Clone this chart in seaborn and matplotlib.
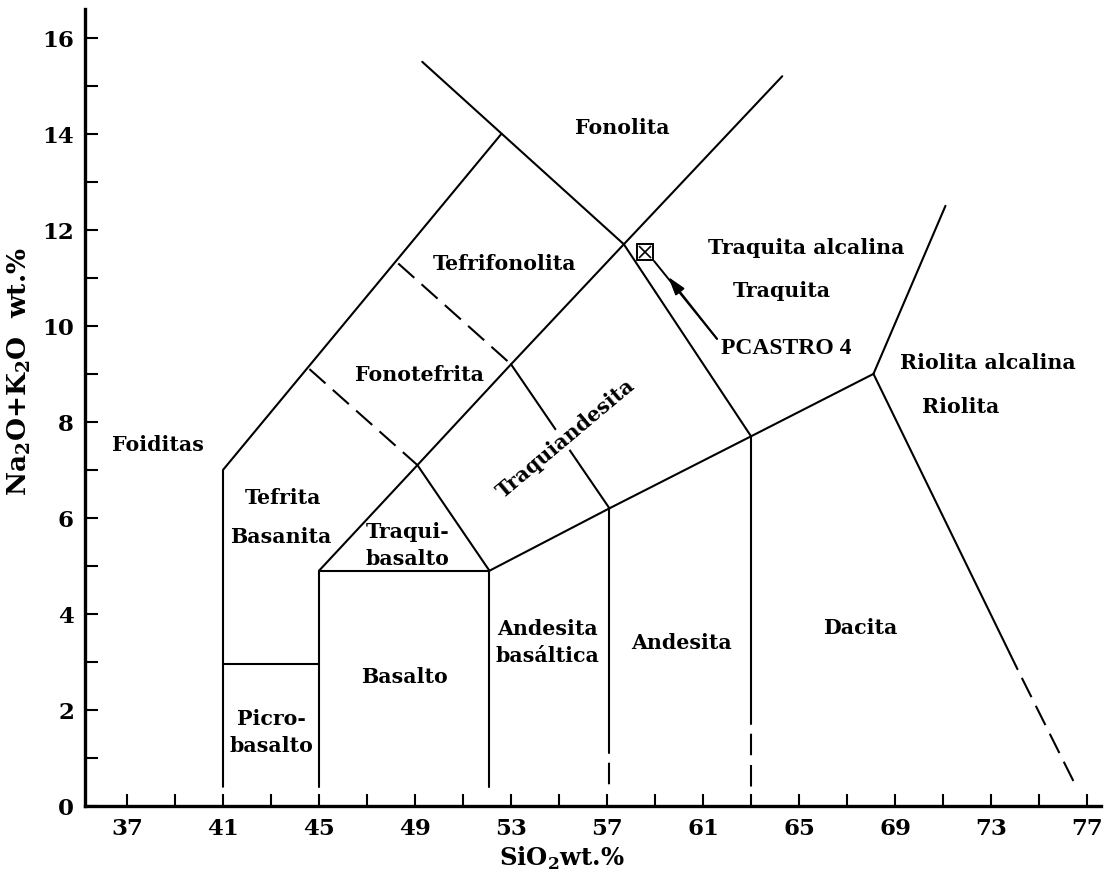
import matplotlib
matplotlib.use("Agg")
import matplotlib.pyplot as plt
import seaborn as sns

# ---------------- data (SiO2 wt.%, Na2O+K2O wt.%) ----------------
# solid boundary polylines
foidite_x = [41.0, 41.0, 52.6]
foidite_y = [0.4, 7.0, 14.0]
phono_top_x = [49.3, 57.7, 63.0]
phono_top_y = [15.5, 11.7, 7.7]
alkaline_x = [45.0, 49.1, 53.0, 57.7, 64.3]
alkaline_y = [4.9, 7.1, 9.2, 11.7, 15.2]
subalk_x = [52.1, 57.1, 63.0, 68.1]
subalk_y = [4.9, 6.2, 7.7, 9.0]
picro_top_x = [41.0, 45.0]
picro_top_y = [2.95, 2.95]
basalt_x = [45.0, 45.0, 52.1, 52.1]
basalt_y = [0.4, 4.9, 4.9, 0.4]
trbas_x = [49.1, 52.1]
trbas_y = [7.1, 4.9]
trand_x = [53.0, 57.1]
trand_y = [9.2, 6.2]
and_x = [57.1, 57.1]
and_y = [6.2, 1.1]
dac_x = [63.0, 63.0]
dac_y = [7.7, 1.7]
rhy_up_x = [68.1, 71.1]
rhy_up_y = [9.0, 12.5]
rhy_low_x = [68.1, 74.1]
rhy_low_y = [9.0, 2.85]
# dashed boundary polylines (start with a dash)
d_tephphon_x = [48.3, 53.0]
d_tephphon_y = [11.3, 9.2]
d_phonteph_x = [44.6, 49.1]
d_phonteph_y = [9.1, 7.1]
# dashed continuations (start with a gap)
d_and_x = [57.1, 57.1]
d_and_y = [1.1, 0.4]
d_dac_x = [63.0, 63.0]
d_dac_y = [1.7, 0.4]
d_rhy_x = [74.1, 76.6]
d_rhy_y = [2.85, 0.35]

# sample
sample_name = "PCASTRO 4"
sample_x = [58.58]
sample_y = [11.53]

# field names and positions
field_names = ["Fonolita", "Tefrifonolita", "Fonotefrita", "Foiditas", "Tefrita",
               "Basanita", "Traqui-\nbasalto", "Basalto", "Picro-\nbasalto",
               "Andesita\nbasáltica", "Andesita", "Dacita", "Traquita alcalina",
               "Traquita", "Riolita alcalina", "Riolita"]
field_x = [57.65, 52.74, 49.17, 38.3, 43.5, 43.42, 48.7, 48.54, 43.0,
           54.5, 60.1, 67.57, 65.28, 64.3, 72.85, 71.74]
field_y = [14.14, 11.32, 9.0, 7.55, 6.43, 5.63, 5.45, 2.71, 1.55,
           3.43, 3.42, 3.72, 11.64, 10.74, 9.24, 8.34]
rot_name = "Traquiandesita"
rot_x, rot_y = 55.28, 7.68

x_major = [37, 41, 45, 49, 53, 57, 61, 65, 69, 73, 77]
x_minor = [39, 43, 47, 51, 55, 59, 63, 67, 71, 75]
y_major = [0, 2, 4, 6, 8, 10, 12, 14, 16]
y_minor = [1, 3, 5, 7, 9, 11, 13, 15]

# ---------------- style ----------------
sns.set_theme(style="ticks")
plt.rcParams["font.family"] = ["DejaVu Serif"]
plt.rcParams["font.weight"] = "bold"
plt.rcParams["text.color"] = "black"
plt.rcParams["axes.labelcolor"] = "black"
plt.rcParams["mathtext.fontset"] = "custom"
plt.rcParams["mathtext.rm"] = "DejaVu Serif:bold"
plt.rcParams["lines.scale_dashes"] = False

fig = plt.figure(figsize=(11.04, 8.79), dpi=100)
ax = fig.add_axes([85 / 1104, 1 - 807 / 879, (1101 - 85) / 1104, (807 - 10) / 879])

LW = 1.5
DASH = (15.5, 7.0)
solid = [(foidite_x, foidite_y), (phono_top_x, phono_top_y), (alkaline_x, alkaline_y),
         (subalk_x, subalk_y), (picro_top_x, picro_top_y), (basalt_x, basalt_y),
         (trbas_x, trbas_y), (trand_x, trand_y), (and_x, and_y), (dac_x, dac_y),
         (rhy_up_x, rhy_up_y), (rhy_low_x, rhy_low_y)]
for xs, ys in solid:
    sns.lineplot(x=xs, y=ys, sort=False, estimator=None, color="black",
                 linewidth=LW, ax=ax)

for xs, ys in [(d_tephphon_x, d_tephphon_y), (d_phonteph_x, d_phonteph_y)]:
    sns.lineplot(x=xs, y=ys, sort=False, estimator=None, color="black",
                 linewidth=LW, linestyle=(0, DASH), ax=ax)
for xs, ys in [(d_and_x, d_and_y), (d_dac_x, d_dac_y), (d_rhy_x, d_rhy_y)]:
    sns.lineplot(x=xs, y=ys, sort=False, estimator=None, color="black",
                 linewidth=LW, linestyle=(DASH[0], DASH), ax=ax)

# sample marker: square with a cross
ax.plot(sample_x, sample_y, marker="s", ms=11, mfc="white", mec="black", mew=1.4,
        ls="none", zorder=5)
ax.plot(sample_x, sample_y, marker="x", ms=9, mec="black", mew=1.2, ls="none", zorder=6)

# leader line + arrowhead
ax.annotate("", xy=(58.96, 11.35), xytext=(61.58, 9.73),
            arrowprops=dict(arrowstyle="-", color="black", lw=1.4,
                            shrinkA=0, shrinkB=0))
ax.annotate("", xy=(59.55, 11.02), xytext=(61.58, 9.73),
            arrowprops=dict(arrowstyle="-|>,head_length=0.55,head_width=0.17",
                            mutation_scale=20, color="black", lw=1.4,
                            shrinkA=0, shrinkB=0))
ax.text(61.75, 9.56, sample_name, fontsize=17, fontweight="bold",
        family="Liberation Serif", ha="left", va="center", color="black")

for name, x, y in zip(field_names, field_x, field_y):
    ax.text(x, y, name, fontsize=14.8, fontweight="bold", ha="center", va="center",
            linespacing=1.45, color="black")
ax.text(rot_x, rot_y, rot_name, fontsize=14.8, fontweight="bold", ha="center",
        va="center", rotation=40, rotation_mode="anchor", color="black",
        bbox=dict(facecolor="white", edgecolor="none", pad=1.5))

# axes
ax.set_xlim(35.25, 77.58)
ax.set_ylim(0, 16.6)
ax.set_xticks(x_major)
ax.set_xticks(x_minor, minor=True)
ax.set_yticks(y_major)
ax.set_yticks(y_minor, minor=True)
ax.set_xticklabels([str(v) for v in x_major])
ax.set_yticklabels([str(v) for v in y_major])
ax.tick_params(which="both", direction="in", length=9, width=1.5, pad=8,
               labelsize=16.5, color="black", labelcolor="black")
for side in ["top", "right"]:
    ax.spines[side].set_visible(False)
for side in ["left", "bottom"]:
    ax.spines[side].set_linewidth(2.4)
    ax.spines[side].set_color("black")

ax.set_xlabel(r"SiO$_\mathrm{2}$wt.%", fontsize=17.5, fontweight="bold")
ax.set_ylabel(r"Na$_\mathrm{2}$O+K$_\mathrm{2}$O  wt.%", fontsize=19,
              fontweight="bold")
ax.xaxis.set_label_coords((562 - 85) / 1016, (807 - 845) / 797)
ax.yaxis.set_label_coords((33 - 85) / 1016, (807 - 372) / 797)

fig.savefig("out.png", dpi=100, facecolor="white")
